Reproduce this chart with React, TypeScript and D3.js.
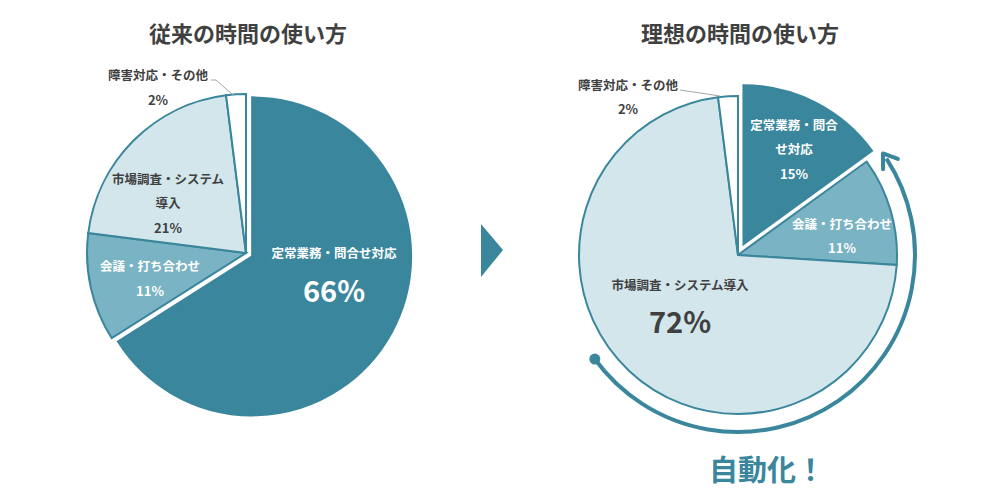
import React from "react";
import * as d3 from "d3";

// ---- data ----
const beforeCategories = ["定常業務・問合せ対応", "会議・打ち合わせ", "市場調査・システム導入", "障害対応・その他"];
const beforeValues = [66, 11, 21, 2];
const afterCategories = ["定常業務・問合せ対応", "会議・打ち合わせ", "市場調査・システム導入", "障害対応・その他"];
const afterValues = [15, 11, 72, 2];
const chartTitles = ["従来の時間の使い方", "理想の時間の使い方"];
const slogan = "自動化！";

// ---- style ----
const TEAL = "#3a869c";
const fills = ["#3a869c", "#7ab3c4", "#d2e6ec", "#ffffff"];
const DARK = "#404040";
const FONT = "'Noto Sans CJK JP', 'Noto Sans', sans-serif";

type LabelSpec = { lines: string[]; dx: number; dy: number[]; sizes: number[]; color: string };

const R = 159;
const S = 12.5;

function Pie({ cx, cy, values, explode, offset, labels, leader }: {
  cx: number; cy: number; values: number[]; explode: number; offset: number;
  labels: LabelSpec[]; leader: number[][];
}) {
  const pie = d3.pie<number>().sort(null).value((d) => d).startAngle(0).endAngle(2 * Math.PI);
  const arcs = pie(values);
  const arc = d3.arc<d3.PieArcDatum<number>>().innerRadius(0).outerRadius(R);
  return (
    <g transform={`translate(${cx},${cy})`}>
      {arcs.map((a, i) => {
        const mid = (a.startAngle + a.endAngle) / 2;
        const off = i === explode ? offset : 0;
        const tx = Math.sin(mid) * off;
        const ty = -Math.cos(mid) * off;
        return (
          <path key={i} d={arc(a) || ""} transform={`translate(${tx},${ty})`}
            fill={fills[i]} stroke={TEAL} strokeWidth={2} strokeLinejoin="miter" />
        );
      })}
      <polyline points={leader.map((p) => p.join(",")).join(" ")} fill="none" stroke="#a6a6a6" strokeWidth={1} />
      {labels.map((l, i) => (
        <g key={i}>
          {l.lines.map((t, j) => (
            <text key={j} x={l.dx} y={l.dy[j]} textAnchor="middle" dominantBaseline="central"
              fontFamily={FONT} fontWeight="bold" fontSize={l.sizes[j]} fill={l.color}>{t}</text>
          ))}
        </g>
      ))}
    </g>
  );
}

export default function App() {
  const c1 = { x: 246, y: 253 };
  const c2 = { x: 738, y: 255 };
  const leftLabels: LabelSpec[] = [
    { lines: ["定常業務・問合せ対応", `${beforeValues[0]}%`], dx: 88, dy: [-1, 36], sizes: [S, 29], color: "#ffffff" },
    { lines: ["会議・打ち合わせ", `${beforeValues[1]}%`], dx: -96, dy: [12, 37], sizes: [S, 13], color: "#ffffff" },
    { lines: ["市場調査・システム", "導入", `${beforeValues[2]}%`], dx: -78, dy: [-75, -51, -26], sizes: [S, S, 13], color: DARK },
    { lines: ["障害対応・その他", `${beforeValues[3]}%`], dx: -88, dy: [-179, -154], sizes: [S, 13], color: DARK },
  ];
  const rightLabels: LabelSpec[] = [
    { lines: ["定常業務・問合", "せ対応", `${afterValues[0]}%`], dx: 56, dy: [-131, -107, -82], sizes: [S, S, 13], color: "#ffffff" },
    { lines: ["会議・打ち合わせ", `${afterValues[1]}%`], dx: 104, dy: [-32, -8], sizes: [S, 13], color: "#ffffff" },
    { lines: ["市場調査・システム導入", `${afterValues[2]}%`], dx: -58, dy: [29, 65], sizes: [S, 29], color: DARK },
    { lines: ["障害対応・その他", `${afterValues[3]}%`], dx: -110, dy: [-171, -147], sizes: [S, 13], color: DARK },
  ];

  // circular arrow around right pie (counter-clockwise)
  const AR = 177;
  const a0 = (234 * Math.PI) / 180;
  const a1 = (57 * Math.PI) / 180;
  const aTip = (55 * Math.PI) / 180;
  const loop = d3.arc<any>().innerRadius(AR).outerRadius(AR)({ startAngle: a1, endAngle: a0 } as any) || "";
  const pt = (a: number, r: number) => [c2.x + Math.sin(a) * r, c2.y - Math.cos(a) * r];
  const [sx, sy] = pt(a0, AR);
  const [hx, hy] = pt(aTip, AR);
  const tdx = -Math.cos(aTip);
  const tdy = -Math.sin(aTip);
  const nx = Math.sin(aTip);
  const ny = -Math.cos(aTip);
  const hl = 13;
  const head = [
    [hx - tdx * hl + nx * 9, hy - tdy * hl + ny * 9],
    [hx, hy],
    [hx - tdx * hl - nx * 9, hy - tdy * hl - ny * 9],
  ];

  return (
    <svg width={1000} height={500} style={{ display: "block", position: "absolute", left: 0, top: 0 }}>
      <rect width={1000} height={500} fill="#ffffff" />
      <text x={248} y={32} textAnchor="middle" dominantBaseline="central" fontFamily={FONT} fontWeight="bold" fontSize={22} fill={DARK}>{chartTitles[0]}</text>
      <text x={740} y={32} textAnchor="middle" dominantBaseline="central" fontFamily={FONT} fontWeight="bold" fontSize={22} fill={DARK}>{chartTitles[1]}</text>

      <Pie cx={c1.x} cy={c1.y} values={beforeValues} explode={0} offset={7} labels={leftLabels}
        leader={[[-35, -173], [-30, -173], [-13, -158]]} />
      <Pie cx={c2.x} cy={c2.y} values={afterValues} explode={0} offset={12} labels={rightLabels}
        leader={[[-58, -165], [-18, -159]]} />

      <polygon points="481,224 503,250 481,277" fill={TEAL} />

      <path d={loop} transform={`translate(${c2.x},${c2.y})`} fill="none" stroke={TEAL} strokeWidth={4} />
      <circle cx={sx} cy={sy} r={5.5} fill={TEAL} />
      <polyline points={head.map((p) => p.join(",")).join(" ")} fill="none" stroke={TEAL} strokeWidth={4} strokeLinecap="round" strokeLinejoin="round" />

      <text x={767} y={468} textAnchor="middle" dominantBaseline="central" fontFamily={FONT} fontWeight="bold" fontSize={29} fill={TEAL}>{slogan}</text>
    </svg>
  );
}
